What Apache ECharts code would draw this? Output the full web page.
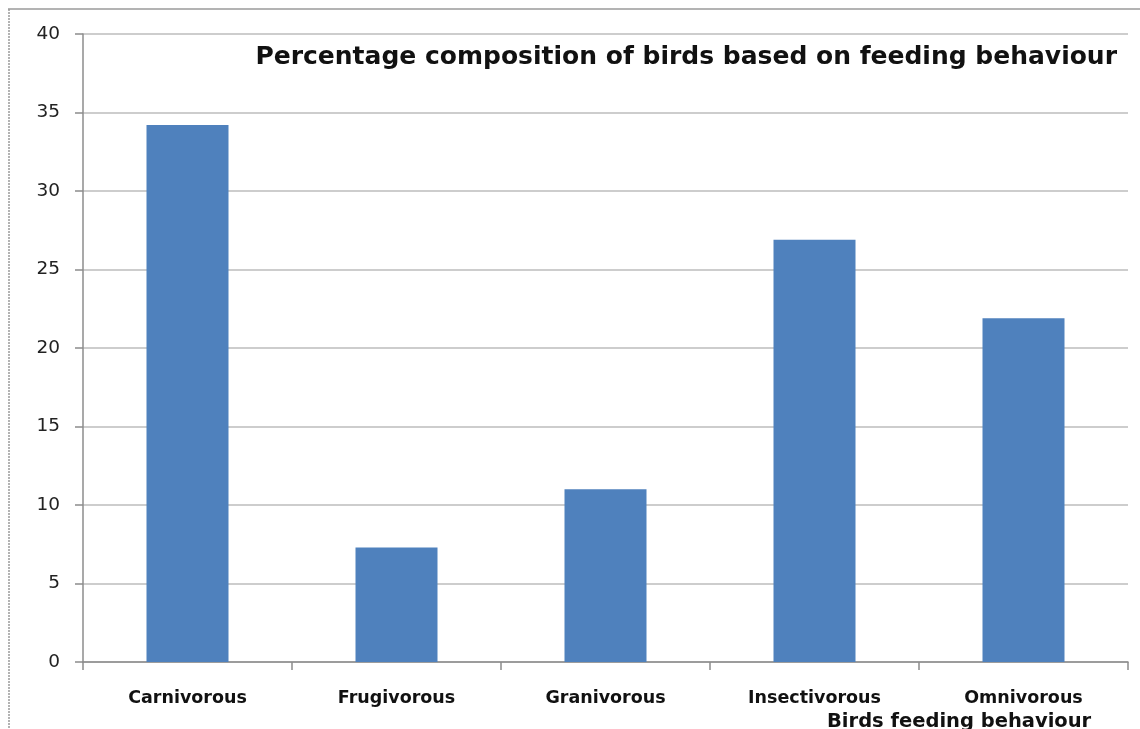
<!DOCTYPE html>
<html>
<head>
<meta charset="utf-8">
<script src="https://cdn.jsdelivr.net/npm/echarts@6/dist/echarts.min.js"></script>
<style>
html,body{margin:0;padding:0;background:#fff;}
#c{width:1140px;height:729px;}
</style>
</head>
<body>
<div id="c"></div>
<script>
const categories = ['Carnivorous', 'Frugivorous', 'Granivorous', 'Insectivorous', 'Omnivorous'];
const values = [34.2, 7.3, 11.0, 26.9, 21.9];
const yTicks = { min: 0, max: 40, interval: 5 };
const chartTitle = 'Percentage composition of birds based on feeding behaviour';
const xAxisTitle = 'Birds feeding behaviour';

const chart = echarts.init(document.getElementById('c'), null, { renderer: 'canvas' });
chart.setOption({
  backgroundColor: '#fff',
  animation: false,
  title: [
    {
      text: chartTitle,
      right: 18, top: 40,
      textStyle: { fontFamily: 'DejaVu Sans', fontWeight: 'bold', fontSize: 25, color: '#111' }
    },
    {
      text: xAxisTitle,
      left: 822, top: 707,
      textStyle: { fontFamily: 'DejaVu Sans', fontWeight: 'bold', fontSize: 19.5, color: '#111' }
    }
  ],
  graphic: [
    { type: 'line', shape: { x1: 8, y1: 9, x2: 1140, y2: 9 }, style: { stroke: '#9a9a9a', lineWidth: 1.5 } },
    { type: 'line', shape: { x1: 9, y1: 9, x2: 9, y2: 729 }, style: { stroke: '#9a9a9a', lineWidth: 1.5, lineDash: [2, 1] } }
  ],
  grid: { left: 83, right: 12, top: 34, bottom: 67 },
  xAxis: {
    type: 'category',
    data: categories,
    axisLine: { lineStyle: { color: '#8c8c8c', width: 1.5 } },
    axisTick: { show: true, length: 8, lineStyle: { color: '#8c8c8c', width: 1.5 } },
    axisLabel: { margin: 27, fontFamily: 'DejaVu Sans', fontWeight: 'bold', fontSize: 17.5, color: '#111' }
  },
  yAxis: {
    type: 'value',
    min: yTicks.min, max: yTicks.max, interval: yTicks.interval,
    axisLine: { show: true, lineStyle: { color: '#8c8c8c', width: 1.5 } },
    axisTick: { show: true, length: 8, lineStyle: { color: '#8c8c8c', width: 1.5 } },
    axisLabel: { margin: 23, fontFamily: 'DejaVu Sans', fontSize: 18.5, color: '#222' },
    splitLine: { lineStyle: { color: '#bdbdbd', width: 1.5 } }
  },
  series: [{
    type: 'bar',
    data: values,
    barWidth: 82,
    itemStyle: { color: '#4F81BD' }
  }]
});
</script>
</body>
</html>
